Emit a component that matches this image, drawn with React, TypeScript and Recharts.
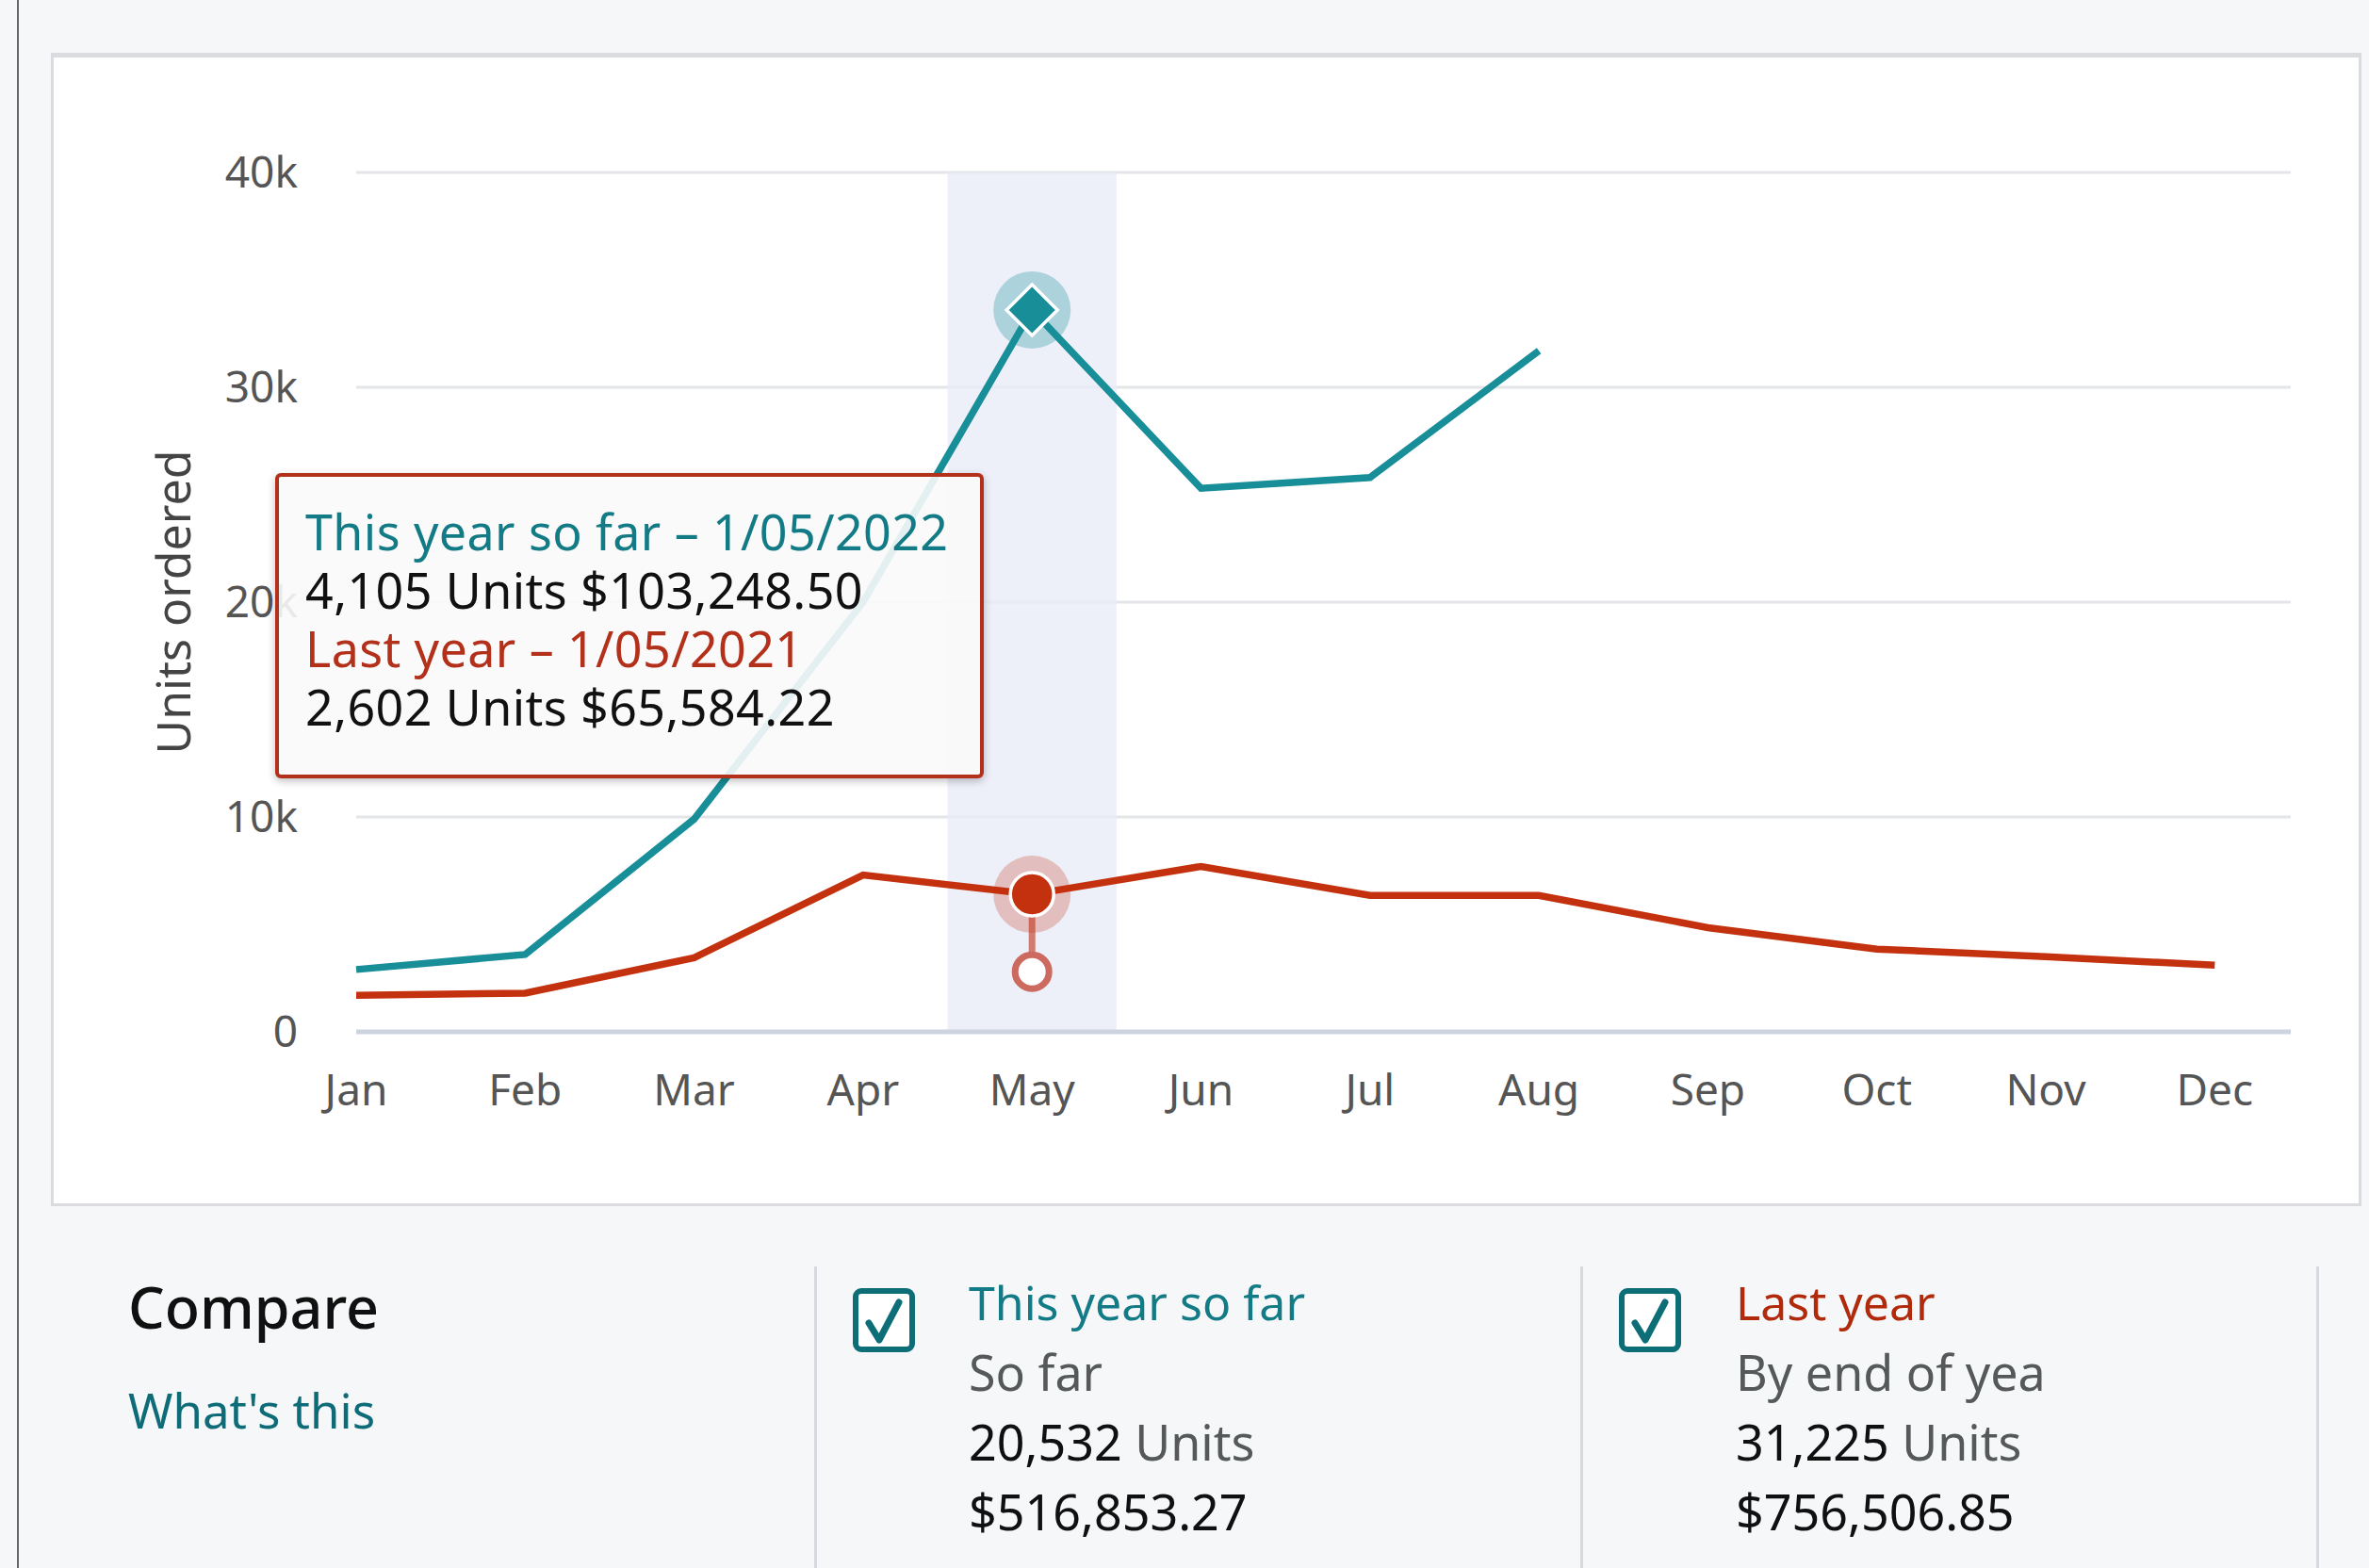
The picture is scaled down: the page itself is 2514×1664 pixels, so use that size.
import React from 'react';
import {
  LineChart,
  Line,
  XAxis,
  YAxis,
  CartesianGrid,
  ReferenceArea,
  ReferenceLine,
  ReferenceDot,
} from 'recharts';

// ---------- data ----------
const months = ['Jan', 'Feb', 'Mar', 'Apr', 'May', 'Jun', 'Jul', 'Aug', 'Sep', 'Oct', 'Nov', 'Dec'];
const thisYearUnits = [2900, 3600, 9900, 20000, 33600, 25300, 25800, 31700, null, null, null, null];
const lastYearUnits = [1700, 1800, 3450, 7300, 6400, 7700, 6350, 6350, 4850, 3850, 3500, 3100];
const yTicks = [0, 10000, 20000, 30000, 40000];
const yTickLabels = ['0', '10k', '20k', '30k', '40k'];
const highlightIndex = 4;
const lastYearDayMarker = 2800;

const tooltipLines = [
  { text: 'This year so far \u2013 1/05/2022', kind: 'teal' },
  { text: '4,105 Units $103,248.50', kind: 'plain' },
  { text: 'Last year \u2013 1/05/2021', kind: 'red' },
  { text: '2,602 Units $65,584.22', kind: 'plain' },
];

const compareTitle = 'Compare';
const compareLink = "What's this";
const compareItems = [
  { title: 'This year so far', kind: 'teal', sub: 'So far', units: '20,532', money: '$516,853.27' },
  { title: 'Last year', kind: 'red', sub: 'By end of yea', units: '31,225', money: '$756,506.85' },
];

// ---------- styles ----------
const TEAL = '#178e98';
const TEAL_TEXT = '#137b86';
const RED = '#c4310e';
const RED_TEXT = '#b3301a';
const FONT = '"Noto Sans", "Open Sans", sans-serif';

const data = months.map((m, i) => ({
  idx: i,
  month: m,
  thisYear: thisYearUnits[i],
  lastYear: lastYearUnits[i],
}));

const TealDot = (props: any) => {
  const { cx, cy, index } = props;
  if (index !== highlightIndex || cx == null || cy == null) return <g key={`t${index}`} />;
  const d = 27;
  return (
    <g key={`t${index}`}>
      <circle cx={cx} cy={cy} r={41} fill={TEAL} fillOpacity={0.3} />
      <polygon
        points={`${cx},${cy - d} ${cx + d},${cy} ${cx},${cy + d} ${cx - d},${cy}`}
        fill={TEAL}
        stroke="#ffffff"
        strokeWidth={3.5}
      />
    </g>
  );
};

const RedDot = (props: any) => {
  const { cx, cy, index } = props;
  if (index !== highlightIndex || cx == null || cy == null) return <g key={`r${index}`} />;
  return (
    <g key={`r${index}`}>
      <circle cx={cx} cy={cy} r={41} fill={RED} fillOpacity={0.25} />
      <circle cx={cx} cy={cy} r={23} fill={RED} stroke="#ffffff" strokeWidth={3.5} />
    </g>
  );
};

const YLabel = (props: any) => {
  const vb = props.viewBox || { x: 258, y: 183, width: 120, height: 912 };
  const x = vb.x - 75;
  const y = vb.y + vb.height / 2;
  return (
    <text
      x={x}
      y={y}
      transform={`rotate(-90, ${x}, ${y})`}
      textAnchor="middle"
      dominantBaseline="central"
      fill="#444"
      fontSize={50}
      fontFamily={FONT}
    >
      Units ordered
    </text>
  );
};

const Checkbox = () => (
  <svg width={66} height={68} viewBox="0 0 66 68">
    <rect x={3} y={3} width={60} height={62} rx={6} fill="#ffffff" stroke="#0e6e78" strokeWidth={6} />
    <path d="M17 37 L28 55 L49 15" fill="none" stroke="#0e6e78" strokeWidth={7} strokeLinejoin="round" strokeLinecap="round" />
  </svg>
);

export default function App() {
  return (
    <div
      style={{
        position: 'absolute',
        left: 0,
        top: 0,
        width: 2514,
        height: 1664,
        background: '#f5f7f9',
        overflow: 'hidden',
        fontFamily: FONT,
      }}
    >
      {/* left edge line */}
      <div style={{ position: 'absolute', left: 18, top: 0, width: 2, height: 1664, background: '#666' }} />

      {/* chart card */}
      <div
        style={{
          position: 'absolute',
          left: 54,
          top: 56,
          width: 2452,
          height: 1224,
          background: '#ffffff',
          border: '3px solid #dadcdf',
          borderTopWidth: 5,
          boxSizing: 'border-box',
        }}
      />

      {/* chart */}
      <div style={{ position: 'absolute', left: 0, top: 0 }}>
        <LineChart width={2514} height={1290} data={data} margin={{ top: 183, right: 83, bottom: 95, left: 258 }}>
          <CartesianGrid vertical={false} stroke="#e3e5e9" strokeWidth={3} />
          <ReferenceArea
            x1={highlightIndex - 0.5}
            x2={highlightIndex + 0.5}
            y1={0}
            y2={40000}
            fill="#e8ebf8"
            fillOpacity={0.8}
            stroke="none"
            ifOverflow="hidden"
          />
          <XAxis
            type="number"
            dataKey="idx"
            domain={[0, 11.45]}
            ticks={months.map((_, i) => i)}
            tickFormatter={(v: number) => months[v] ?? ''}
            interval={0}
            height={100}
            axisLine={{ stroke: '#cdd4df', strokeWidth: 5 }}
            tickLine={false}
            tickMargin={39}
            tick={{ fontSize: 46, fill: '#555', fontFamily: FONT }}
          />
          <YAxis
            domain={[0, 40000]}
            ticks={yTicks}
            tickFormatter={(v: number) => yTickLabels[yTicks.indexOf(v)] ?? ''}
            width={120}
            axisLine={false}
            tickLine={false}
            tickMargin={56}
            tick={{ fontSize: 46, fill: '#555', fontFamily: FONT }}
            label={<YLabel />}
          />
          <Line
            type="linear"
            dataKey="thisYear"
            stroke={TEAL}
            strokeWidth={7.5}
            dot={TealDot}
            activeDot={false}
            isAnimationActive={false}
            connectNulls={false}
          />
          <ReferenceLine
            segment={[
              { x: highlightIndex, y: lastYearUnits[highlightIndex] as number },
              { x: highlightIndex, y: lastYearDayMarker },
            ]}
            stroke="#d27b70"
            strokeWidth={7}
          />
          <ReferenceDot
            x={highlightIndex}
            y={lastYearDayMarker}
            r={18}
            fill="#ffffff"
            stroke="#cc6a5f"
            strokeWidth={7}
          />
          <Line
            type="linear"
            dataKey="lastYear"
            stroke={RED}
            strokeWidth={7.5}
            dot={RedDot}
            activeDot={false}
            isAnimationActive={false}
          />
        </LineChart>
      </div>

      {/* tooltip box */}
      <div
        style={{
          position: 'absolute',
          left: 292,
          top: 502,
          width: 752,
          height: 324,
          boxSizing: 'border-box',
          border: `4px solid ${RED_TEXT}`,
          borderRadius: 6,
          background: 'rgba(249,249,249,0.9)',
          boxShadow: '0 3px 8px rgba(0,0,0,0.25)',
          padding: '27px 0 0 28px',
        }}
      >
        {tooltipLines.map((l, i) => (
          <div
            key={i}
            style={{
              fontSize: 52,
              letterSpacing: '0.4px',
              lineHeight: '62px',
              whiteSpace: 'nowrap',
              color: l.kind === 'teal' ? TEAL_TEXT : l.kind === 'red' ? RED_TEXT : '#111',
            }}
          >
            {l.text}
          </div>
        ))}
      </div>

      {/* compare section */}
      <div
        style={{
          position: 'absolute',
          left: 136,
          top: 1350,
          fontSize: 61,
          lineHeight: '74px',
          color: '#0f1111',
          fontWeight: 500,
          whiteSpace: 'nowrap',
        }}
      >
        {compareTitle}
      </div>
      <div
        style={{
          position: 'absolute',
          left: 136,
          top: 1459,
          fontSize: 51,
          lineHeight: '74px',
          color: '#0e6c78',
          whiteSpace: 'nowrap',
        }}
      >
        {compareLink}
      </div>

      {[864, 1677, 2458].map((x, i) => (
        <div key={i} style={{ position: 'absolute', left: x, top: 1344, width: 3, height: 330, background: '#d6dadf' }} />
      ))}

      {compareItems.map((it, i) => {
        const boxLeft = i === 0 ? 905 : 1718;
        const textLeft = i === 0 ? 1028 : 1842;
        return (
          <React.Fragment key={i}>
            <div style={{ position: 'absolute', left: boxLeft, top: 1367 }}>
              <Checkbox />
            </div>
            <div
              style={{
                position: 'absolute',
                left: textLeft,
                top: 1345,
                whiteSpace: 'nowrap',
                lineHeight: '74px',
              }}
            >
              <div style={{ fontSize: 50, color: it.kind === 'teal' ? TEAL_TEXT : '#b12a0c' }}>{it.title}</div>
              <div style={{ fontSize: 52, color: '#565959' }}>{it.sub}</div>
              <div style={{ fontSize: 52, color: '#0f1111' }}>
                {it.units} <span style={{ color: '#565959' }}>Units</span>
              </div>
              <div style={{ fontSize: 52, color: '#0f1111' }}>{it.money}</div>
            </div>
          </React.Fragment>
        );
      })}
    </div>
  );
}
